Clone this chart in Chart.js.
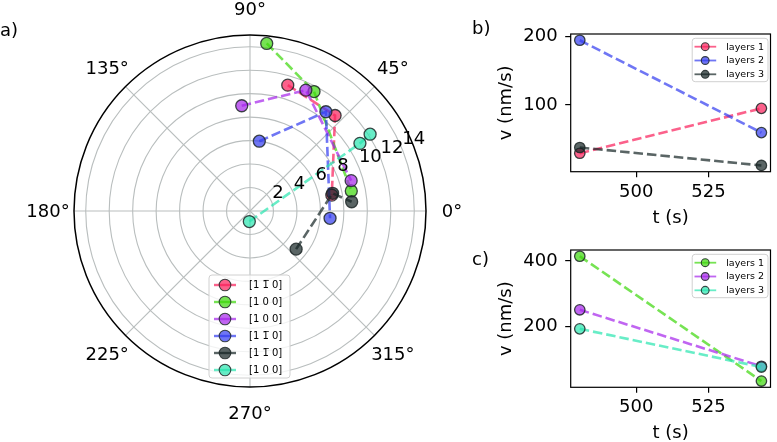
<!DOCTYPE html>
<html>
<head>
<meta charset="utf-8">
<script src="https://cdn.jsdelivr.net/npm/chart.js@4.4.0/dist/chart.umd.min.js"></script>
<style>
  html, body { margin: 0; padding: 0; background: #fff; overflow: hidden; }
  body { width: 777px; height: 442px; position: relative; font-family: 'DejaVu Sans', sans-serif; }
  .box { position: absolute; }
  .tag { position: absolute; font-size: 18px; line-height: 18px; color: #000; }
</style>
</head>
<body>
<div class="box" style="left:0;top:0;width:470px;height:442px"><canvas id="polar"></canvas></div>
<div class="box" style="left:490px;top:0;width:287px;height:229px"><canvas id="velB"></canvas></div>
<div class="box" style="left:490px;top:218px;width:287px;height:226px"><canvas id="velC"></canvas></div>
<div class="tag" style="left:0px;top:21px">a)</div>
<div class="tag" style="left:472px;top:19px">b)</div>
<div class="tag" style="left:472px;top:250px">c)</div>
<script>
// a) polar: angle (deg) and radius of each point, per series
const polarNames = ['[1 1\u0305 0]', '[1 0 0]', '[1 0 0]', '[1 1\u0305 0]', '[1 1\u0305 0]', '[1 0 0]'];
const thetaRed = [73.3, 48.3, 11.0];
const rRed = [11.2, 10.9, 7.1];
const thetaGreen = [84.3, 61.8, 11.2];
const rGreen = [14.35, 11.55, 8.8];
const thetaPurple = [94.5, 65.2, 16.7];
const rPurple = [9.0, 11.35, 9.0];
const thetaBlue = [82.4, 52.6, 354.8];
const rBlue = [6.0, 10.65, 6.85];
const thetaGray = [320.4, 12.1, 5.2];
const rGray = [5.1, 7.2, 8.7];
const thetaAqua = [266.3, 31.6, 32.6];
const rAqua = [0.9, 11.0, 12.15];
const rTicks = [2, 4, 6, 8, 10, 12, 14];
const rMax = 15;
const angleTicks = [0, 45, 90, 135, 180, 225, 270, 315];

// b) and c) velocity vs time
const tVals = [480.5, 543.3];
const tTicks = [500, 525];
const layerNames = ['layers 1', 'layers 2', 'layers 3'];
const vB1 = [29.6, 95.1];
const vB2 = [194.5, 59.7];
const vB3 = [38.0, 11.8];
const vC1 = [414.3, 33.8];
const vC2 = [251.0, 79.0];
const vC3 = [193.0, 76.5];
const bTicks = [100, 200];
const cTicks = [200, 400];

const cRed = [250, 30, 90], cGreen = [60, 215, 10], cPurple = [165, 35, 235];
const cBlue = [50, 60, 240], cGray = [20, 35, 35], cAqua = [40, 230, 175];
const rgba = (c, a) => 'rgba(' + c[0] + ',' + c[1] + ',' + c[2] + ',' + a + ')';
const EDGE = 'rgba(30,40,40,0.85)';
const FONT = '"DejaVu Sans", sans-serif';

Chart.defaults.font.family = FONT;
Chart.defaults.color = '#000';

function toXY(theta, r) {
  return theta.map((t, i) => ({ x: r[i] * Math.cos(t * Math.PI / 180), y: r[i] * Math.sin(t * Math.PI / 180) }));
}

function lineSet(label, data, col, idx, n, rad) {
  return {
    label: label, data: data, showLine: true,
    borderColor: rgba(col, 0.7), borderWidth: 2.6, borderDash: [9.5, 4],
    pointRadius: rad, pointHoverRadius: rad,
    pointBackgroundColor: rgba(col, 0.7), pointBorderColor: EDGE, pointBorderWidth: 1.3,
    order: n - 1 - idx, clip: false
  };
}

// matplotlib-like legend box: line + marker + label
function drawLegend(ctx, sets, box, rows, lineX, markX, textX, rad, fontSize, lw) {
  ctx.save();
  ctx.beginPath();
  ctx.roundRect(box.x, box.y, box.w, box.h, 3);
  ctx.fillStyle = 'rgba(255,255,255,0.8)';
  ctx.fill();
  ctx.strokeStyle = '#d0d0d0';
  ctx.lineWidth = 1;
  ctx.stroke();
  ctx.font = fontSize + 'px ' + FONT;
  ctx.textAlign = 'left';
  ctx.textBaseline = 'middle';
  sets.forEach((ds, i) => {
    const yy = rows[0] + i * rows[1];
    ctx.strokeStyle = ds.borderColor;
    ctx.lineWidth = lw;
    ctx.beginPath(); ctx.moveTo(lineX[0], yy); ctx.lineTo(lineX[1], yy); ctx.stroke();
    ctx.beginPath(); ctx.arc(markX, yy, rad, 0, 2 * Math.PI);
    ctx.fillStyle = ds.pointBackgroundColor; ctx.fill();
    ctx.strokeStyle = EDGE; ctx.lineWidth = 1.1; ctx.stroke();
    ctx.fillStyle = '#000';
    ctx.fillText(ds.label, textX, yy + 0.5);
  });
  ctx.restore();
}

const polarSeries = [
  [thetaRed, rRed, cRed], [thetaGreen, rGreen, cGreen], [thetaPurple, rPurple, cPurple],
  [thetaBlue, rBlue, cBlue], [thetaGray, rGray, cGray], [thetaAqua, rAqua, cAqua]
];
const polarSets = polarSeries.map((s, i) => lineSet(polarNames[i], toXY(s[0], s[1]), s[2], i, polarSeries.length, 6));

const polarGrid = {
  id: 'polarGrid',
  beforeDatasetsDraw(chart) {
    const { ctx, scales: { x, y } } = chart;
    const cx = x.getPixelForValue(0), cy = y.getPixelForValue(0);
    const px = r => x.getPixelForValue(r) - cx;
    ctx.save();
    ctx.strokeStyle = '#b9bebe';
    ctx.lineWidth = 1.1;
    rTicks.forEach(r => { ctx.beginPath(); ctx.arc(cx, cy, px(r), 0, 2 * Math.PI); ctx.stroke(); });
    angleTicks.forEach(a => {
      const t = a * Math.PI / 180;
      ctx.beginPath(); ctx.moveTo(cx, cy);
      ctx.lineTo(cx + px(rMax) * Math.cos(t), cy - px(rMax) * Math.sin(t));
      ctx.stroke();
    });
    ctx.strokeStyle = '#000';
    ctx.lineWidth = 1.5;
    ctx.beginPath(); ctx.arc(cx, cy, px(rMax), 0, 2 * Math.PI); ctx.stroke();
    ctx.fillStyle = '#000';
    ctx.font = '18px ' + FONT;
    ctx.textAlign = 'center';
    ctx.textBaseline = 'middle';
    const lr = px(rMax) + 26;
    angleTicks.forEach(a => {
      const t = a * Math.PI / 180;
      ctx.fillText(a + '\u00b0', cx + lr * Math.cos(t), cy - lr * Math.sin(t) + 1);
    });
    ctx.restore();
  },
  afterDatasetsDraw(chart) {
    const { ctx, scales: { x, y } } = chart;
    const cx = x.getPixelForValue(0), cy = y.getPixelForValue(0);
    const px = r => x.getPixelForValue(r) - cx;
    const t = 22.5 * Math.PI / 180;
    ctx.save();
    ctx.fillStyle = '#000';
    ctx.font = '18px ' + FONT;
    ctx.textAlign = 'left';
    ctx.textBaseline = 'alphabetic';
    rTicks.forEach(r => {
      ctx.fillText(String(r), cx + px(r) * Math.cos(t) + 0.5, cy - px(r) * Math.sin(t) - 4);
    });
    ctx.restore();
    drawLegend(ctx, chart.data.datasets, { x: 209, y: 275, w: 81, h: 103 }, [285, 17],
      [214, 236], 225, 249, 5.8, 10, 2.4);
  }
};

new Chart(document.getElementById('polar'), {
  type: 'scatter',
  data: { datasets: polarSets },
  options: {
    responsive: true, maintainAspectRatio: false, animation: false,
    layout: { padding: { left: 74, right: 44, top: 35, bottom: 55 } },
    scales: {
      x: { type: 'linear', min: -rMax, max: rMax, display: false },
      y: { type: 'linear', min: -rMax, max: rMax, display: false }
    },
    plugins: { legend: { display: false }, tooltip: { enabled: false } }
  },
  plugins: [polarGrid]
});

// box frame + legend for the two velocity panels
const frameLegend = {
  id: 'frameLegend',
  afterDatasetsDraw(chart) {
    const { ctx, chartArea: a } = chart;
    ctx.save();
    ctx.strokeStyle = '#000';
    ctx.lineWidth = 1.2;
    ctx.strokeRect(a.left, a.top, a.right - a.left, a.bottom - a.top);
    ctx.restore();
    drawLegend(ctx, chart.data.datasets, { x: a.right - 78.3, y: a.top + 4.3, w: 75.8, h: 43.4 },
      [a.top + 12.7, 13.8], [a.right - 76, a.right - 54.3], a.right - 65.3, a.right - 44.3, 3.9, 9.5, 1.8);
  }
};

function padRange(vals) {
  const lo = Math.min.apply(null, vals), hi = Math.max.apply(null, vals);
  const m = (hi - lo) * 0.05;
  return [lo - m, hi + m];
}

function velChart(id, series, cols, yTicks, padTop, xHeight) {
  const tr = padRange(tVals);
  const yr = padRange([].concat.apply([], series));
  const sets = series.map((v, i) => lineSet(layerNames[i], tVals.map((t, j) => ({ x: t, y: v[j] })), cols[i], i, series.length, 5.2));
  const tick = { font: { size: 18 }, color: '#000' };
  const grid = { drawOnChartArea: false, drawTicks: true, tickLength: 5.5, color: '#000', lineWidth: 1.2 };
  return new Chart(document.getElementById(id), {
    type: 'scatter',
    data: { datasets: sets },
    options: {
      responsive: true, maintainAspectRatio: false, animation: false,
      layout: { padding: { left: 0, right: 1, top: padTop, bottom: 0 } },
      scales: {
        x: {
          type: 'linear', min: tr[0], max: tr[1],
          afterBuildTicks: s => { s.ticks = tTicks.map(v => ({ value: v })); },
          afterFit: s => { s.height = xHeight; },
          ticks: Object.assign({ padding: 4, maxRotation: 0, autoSkip: false }, tick),
          grid: grid, border: { display: false },
          title: { display: true, text: 't (s)', font: { size: 18 }, color: '#000', padding: { top: 0, bottom: 0 } }
        },
        y: {
          type: 'linear', min: yr[0], max: yr[1],
          afterBuildTicks: s => { s.ticks = yTicks.map(v => ({ value: v })); },
          afterFit: s => { s.width = 80.7; },
          ticks: Object.assign({ padding: 7.5 }, tick),
          grid: grid, border: { display: false },
          title: { display: true, text: 'v (nm/s)', font: { size: 18 }, color: '#000', padding: { top: 6, bottom: 0 } }
        }
      },
      plugins: { legend: { display: false }, tooltip: { enabled: false } }
    },
    plugins: [frameLegend]
  });
}

velChart('velB', [vB1, vB2, vB3], [cRed, cBlue, cGray], bTicks, 34, 57.3);
velChart('velC', [vC1, vC2, vC3], [cGreen, cPurple, cAqua], cTicks, 32, 56.7);
</script>
</body>
</html>
